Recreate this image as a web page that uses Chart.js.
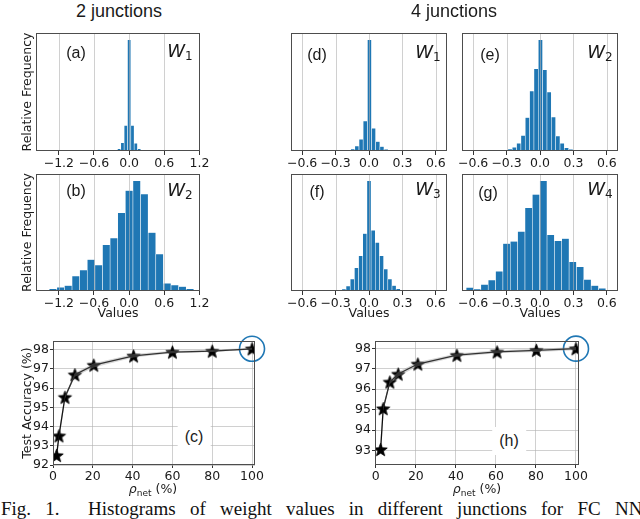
<!DOCTYPE html>
<html>
<head>
<meta charset="utf-8">
<script src="https://cdn.jsdelivr.net/npm/chart.js@4"></script>
<style>
  body { margin: 0; background: #fff; }
  #fig { position: relative; width: 640px; height: 519px; overflow: hidden; background: #fff; font-family: "DejaVu Sans", sans-serif; color: #1a1a1a; }
  canvas { position: absolute; }
  .t { position: absolute; transform: translate(-50%, -50%); white-space: nowrap; z-index: 2; }
  .head { font-family: "Liberation Sans", Arial, sans-serif; font-size: 18px; }
  .pan { font-family: "Liberation Sans", Arial, sans-serif; font-size: 16px; }
  .w { font-family: "DejaVu Sans", sans-serif; font-style: italic; font-size: 18px; }
  .w sub { font-style: normal; font-size: 12px; vertical-align: -3px; }
  .rho { font-size: 12.5px; }
  .rho sub { font-size: 9px; vertical-align: -3px; }
  .box { background: #fff; padding: 5px 7px; }
  #cap { position: absolute; left: 1px; top: 498px; font-family: "Liberation Serif", "Times New Roman", serif; font-size: 19px; white-space: nowrap; word-spacing: 9.5px; color: #111; }
</style>
</head>
<body>
<div id="fig">
  <canvas id="cA"></canvas><canvas id="cB"></canvas>
  <canvas id="cD"></canvas><canvas id="cE"></canvas>
  <canvas id="cF"></canvas><canvas id="cG"></canvas>
  <canvas id="cC"></canvas><canvas id="cH"></canvas>

  <div class="t head" style="left:119px;top:11px">2 junctions</div>
  <div class="t head" style="left:454px;top:11px">4 junctions</div>

  <div class="t pan" style="left:76px;top:53px">(a)</div>
  <div class="t w" style="left:180px;top:51px">W<sub>1</sub></div>
  <div class="t pan" style="left:76px;top:191px">(b)</div>
  <div class="t w" style="left:180px;top:190px">W<sub>2</sub></div>
  <div class="t pan" style="left:317px;top:55px">(d)</div>
  <div class="t w" style="left:428px;top:52px">W<sub>1</sub></div>
  <div class="t pan" style="left:490px;top:55px">(e)</div>
  <div class="t w" style="left:600px;top:52px">W<sub>2</sub></div>
  <div class="t pan" style="left:317px;top:192px">(f)</div>
  <div class="t w" style="left:428px;top:189px">W<sub>3</sub></div>
  <div class="t pan" style="left:488px;top:193px">(g)</div>
  <div class="t w" style="left:600px;top:189px">W<sub>4</sub></div>

  <div class="t pan box" style="left:194px;top:437px">(c)</div>
  <div class="t pan box" style="left:509px;top:441px">(h)</div>
  <div class="t rho" style="left:153px;top:489px"><i>ρ</i><sub>net</sub> (%)</div>
  <div class="t rho" style="left:477px;top:489px"><i>ρ</i><sub>net</sub> (%)</div>

  <div id="cap">Fig. 1.&nbsp; Histograms of weight values in different junctions for FC NNs</div>
</div>

<script>
// --- data ---
const ticks2 = [-1.2, -0.6, 0.0, 0.6, 1.2];
const ticks4 = [-0.6, -0.3, 0.0, 0.3, 0.6];

// (a) 2 junctions, W1
const binsA = [-0.228, -0.171, -0.114, -0.057, 0.0, 0.057, 0.114, 0.171, 0.228];
const freqA = [0.008, 0.02, 0.075, 0.23, 1.0, 0.23, 0.07, 0.02, 0.005];
// (b) 2 junctions, W2
const binsB = [-1.43, -1.30, -1.17, -1.04, -0.91, -0.78, -0.65, -0.52, -0.39, -0.26, -0.13, 0.00, 0.13, 0.26, 0.39, 0.52, 0.65, 0.78, 0.91, 1.04];
const freqB = [0.01, 0.02, 0.035, 0.05, 0.135, 0.19, 0.285, 0.235, 0.42, 0.48, 0.71, 0.91, 1.0, 0.88, 0.53, 0.335, 0.07, 0.055, 0.04, 0.02];
// (d) 4 junctions, W1
const binsD = [-0.184, -0.146, -0.109, -0.071, -0.034, 0.004, 0.041, 0.079, 0.116, 0.154, 0.191];
const freqD = [0.005, 0.018, 0.045, 0.105, 0.27, 1.0, 0.205, 0.085, 0.04, 0.015, 0.005];
// (e) 4 junctions, W2
const binsE = [-0.269, -0.230, -0.191, -0.152, -0.113, -0.074, -0.035, 0.004, 0.043, 0.082, 0.121, 0.160, 0.199, 0.238, 0.277];
const freqE = [0.018, 0.033, 0.07, 0.14, 0.30, 0.54, 0.74, 1.0, 0.73, 0.53, 0.305, 0.136, 0.07, 0.03, 0.015];
// (f) 4 junctions, W3
const binsF = [-0.225, -0.1875, -0.15, -0.1125, -0.075, -0.0375, 0.0, 0.0375, 0.075, 0.1125, 0.15, 0.1875, 0.225, 0.2625];
const freqF = [0.018, 0.045, 0.108, 0.21, 0.32, 0.52, 1.0, 0.55, 0.44, 0.32, 0.2, 0.11, 0.05, 0.02];
// (g) 4 junctions, W4
const binsG = [-0.63, -0.564, -0.498, -0.432, -0.366, -0.30, -0.234, -0.168, -0.102, -0.036, 0.03, 0.096, 0.162, 0.228, 0.294, 0.36, 0.426, 0.492, 0.558, 0.624];
const freqG = [0.033, 0.018, 0.06, 0.10, 0.18, 0.43, 0.45, 0.54, 0.755, 0.875, 1.0, 0.51, 0.455, 0.475, 0.265, 0.22, 0.105, 0.05, 0.025, 0.01];

// (c) accuracy vs rho, 2 junctions
const rhoC = [1.8, 3, 6, 11, 20.5, 40.5, 60, 80, 100];
const accC = [92.5, 93.52, 95.53, 96.7, 97.2, 97.68, 97.88, 97.93, 98.05];
const accCLo = [92.45, 93.45, 95.45, 96.6, 97.08, 97.6, 97.82, 97.88, 98.0];
const accCHi = [92.55, 93.6, 95.6, 96.8, 97.3, 97.78, 97.95, 98.0, 98.1];
// (h) accuracy vs rho, 4 junctions
const rhoH = [2.4, 3.7, 7, 11.2, 21, 40.5, 60.6, 80.2, 100];
const accH = [93.05, 95.05, 96.35, 96.74, 97.23, 97.66, 97.82, 97.9, 97.98];
const accHLo = [92.9, 94.95, 96.25, 96.62, 97.12, 97.58, 97.76, 97.82, 97.9];
const accHHi = [93.2, 95.15, 96.45, 96.85, 97.33, 97.74, 97.9, 97.98, 98.06];

const rhoTicks = [0, 20, 40, 60, 80, 100];
const accTicksC = [92, 93, 94, 95, 96, 97, 98];
const accTicksH = [93, 94, 95, 96, 97, 98];

// --- drawing ---
Chart.defaults.font.family = '"DejaVu Sans", sans-serif';
Chart.defaults.color = '#1a1a1a';

const BLUE = '#1f77b4';
const GRID = 'rgba(176,176,176,0.6)';
const tickFont = { size: 12.5 };
const labFont = { size: 12.5 };

// gridlines over the bars (matplotlib puts them above patches), plus the axes frame
const frame = {
  id: 'frame',
  afterDatasetsDraw(chart, args, opts) {
    const { ctx, chartArea: a, scales } = chart;
    ctx.save();
    if (opts.gridTop) {
      ctx.strokeStyle = GRID;
      ctx.lineWidth = 1;
      scales.x.ticks.forEach(t => {
        const px = Math.round(scales.x.getPixelForValue(t.value)) + 0.5;
        ctx.beginPath();
        ctx.moveTo(px, a.top);
        ctx.lineTo(px, a.bottom);
        ctx.stroke();
      });
    }
    ctx.strokeStyle = '#4d4d4d';
    ctx.lineWidth = 1;
    ctx.strokeRect(Math.round(a.left) + 0.5, Math.round(a.top) + 0.5, Math.round(a.right - a.left) - 1, Math.round(a.bottom - a.top) - 1);
    ctx.restore();
  }
};

function place(id, box, m) {
  const c = document.getElementById(id);
  c.width = box.w + m.l + m.r;
  c.height = box.h + m.t + m.b;
  c.style.left = (box.x - m.l) + 'px';
  c.style.top = (box.y - m.t) + 'px';
  return c;
}

const fmt1 = v => (v < 0 ? '\u2212' : '') + Math.abs(v).toFixed(1);

function hist(id, box, bins, freq, ticks, xr, ylab, xlab) {
  const yW = ylab ? 16 : 0;
  const xH = xlab ? 30 : 21;
  const m = { l: ylab ? 36 : 16, r: 14, t: 4, b: xH + 2 };
  const c = place(id, box, m);
  new Chart(c, {
    type: 'bar',
    data: {
      datasets: [{
        data: bins.map((b, i) => ({ x: b, y: freq[i] })),
        backgroundColor: BLUE,
        borderColor: 'rgba(255,255,255,0.45)',
        borderWidth: 0.6,
        barPercentage: 1,
        categoryPercentage: 1
      }]
    },
    plugins: [frame],
    options: {
      responsive: false,
      animation: false,
      devicePixelRatio: 1,
      layout: { padding: { left: m.l - yW, right: m.r, top: m.t, bottom: m.b - xH } },
      plugins: { legend: { display: false }, tooltip: { enabled: false }, frame: { gridTop: true } },
      scales: {
        x: {
          type: 'linear', min: xr[0], max: xr[1], offset: false,
          afterBuildTicks: s => { s.ticks = ticks.map(v => ({ value: v })); },
          afterFit: s => { s.height = xH; },
          grid: { offset: false, color: 'rgba(0,0,0,0)', tickColor: '#333', tickLength: 4 },
          border: { display: false },
          ticks: { font: tickFont, padding: 1, maxRotation: 0, callback: v => fmt1(v) },
          title: { display: !!xlab, text: 'Values', font: labFont, padding: 0 }
        },
        y: {
          display: !!ylab, min: 0, max: 1.06,
          afterFit: s => { if (ylab) s.width = yW; },
          grid: { display: false },
          border: { display: false },
          ticks: { display: false },
          title: { display: !!ylab, text: 'Relative Frequency', font: labFont, padding: 0 }
        }
      }
    }
  });
}

// filled star marker like matplotlib '*'
function starMarker(R) {
  const s = Math.ceil(R * 2 + 3);
  const cv = document.createElement('canvas');
  cv.width = s; cv.height = s;
  const g = cv.getContext('2d');
  const cx = s / 2, cy = s / 2 + R * 0.1;
  g.beginPath();
  for (let i = 0; i < 10; i++) {
    const r = i % 2 ? R * 0.42 : R;
    const a = -Math.PI / 2 + i * Math.PI / 5;
    g.lineTo(cx + r * Math.cos(a), cy + r * Math.sin(a));
  }
  g.closePath();
  g.fillStyle = '#000';
  g.fill();
  g.strokeStyle = '#000';
  g.lineWidth = 0.8;
  g.stroke();
  return cv;
}
const star = starMarker(7);

function acc(id, box, rho, a, lo, hi, yt, yr, xr, ylab) {
  const yW = ylab ? 33 : 30;
  const xH = 18;
  const m = { l: ylab ? 53 : 40, r: 16, t: 10, b: xH + 2 };
  const c = place(id, box, m);
  new Chart(c, {
    type: 'line',
    data: {
      datasets: [
        { data: rho.map((x, i) => ({ x, y: hi[i] })), borderWidth: 0, pointRadius: 0, fill: '+1', backgroundColor: 'rgba(140,140,140,0.35)', tension: 0 },
        { data: rho.map((x, i) => ({ x, y: lo[i] })), borderWidth: 0, pointRadius: 0, fill: false, tension: 0 },
        { data: rho.map((x, i) => ({ x, y: a[i] })), borderColor: '#000', borderWidth: 1.3, pointStyle: star, pointRadius: 7, fill: false, tension: 0 },
        { data: [{ x: rho[rho.length - 1], y: a[a.length - 1] }], showLine: false, pointStyle: 'circle', pointRadius: 12.5,
          pointBorderColor: BLUE, pointBackgroundColor: 'rgba(0,0,0,0)', pointBorderWidth: 1.6, clip: false }
      ]
    },
    plugins: [frame],
    options: {
      responsive: false,
      animation: false,
      devicePixelRatio: 1,
      layout: { padding: { left: m.l - yW, right: m.r, top: m.t, bottom: m.b - xH } },
      plugins: { legend: { display: false }, tooltip: { enabled: false }, frame: { gridTop: false } },
      scales: {
        x: {
          type: 'linear', min: xr[0], max: xr[1],
          afterBuildTicks: s => { s.ticks = rhoTicks.map(v => ({ value: v })); },
          afterFit: s => { s.height = xH; },
          grid: { color: GRID, tickColor: '#333', tickLength: 3 },
          border: { display: false },
          ticks: { font: tickFont, padding: 1, maxRotation: 0 }
        },
        y: {
          min: yr[0], max: yr[1],
          afterBuildTicks: s => { s.ticks = yt.map(v => ({ value: v })); },
          afterFit: s => { s.width = yW; },
          grid: { color: GRID, tickColor: '#333', tickLength: 3 },
          border: { display: false },
          ticks: { font: tickFont, padding: 1 },
          title: { display: ylab, text: 'Test Accuracy (%)', font: labFont, padding: 0 }
        }
      }
    }
  });
}

hist('cA', { x: 36, y: 33, w: 164, h: 118 }, binsA, freqA, ticks2, [-1.59, 1.21], true, false);
hist('cB', { x: 36, y: 174, w: 164, h: 117 }, binsB, freqB, ticks2, [-1.59, 1.21], true, true);
hist('cD', { x: 291, y: 33, w: 156, h: 118 }, binsD, freqD, ticks4, [-0.70, 0.70], false, false);
hist('cE', { x: 462, y: 33, w: 156, h: 118 }, binsE, freqE, ticks4, [-0.70, 0.70], false, false);
hist('cF', { x: 291, y: 174, w: 156, h: 117 }, binsF, freqF, ticks4, [-0.70, 0.70], false, true);
hist('cG', { x: 462, y: 174, w: 156, h: 117 }, binsG, freqG, ticks4, [-0.70, 0.70], false, true);

acc('cC', { x: 53, y: 337, w: 202, h: 128 }, rhoC, accC, accCLo, accCHi, accTicksC, [92, 98.45], [0, 101.5], true);
acc('cH', { x: 375, y: 337, w: 204, h: 128 }, rhoH, accH, accHLo, accHHi, accTicksH, [92.29, 98.35], [-0.4, 101.5], false);
</script>
</body>
</html>
